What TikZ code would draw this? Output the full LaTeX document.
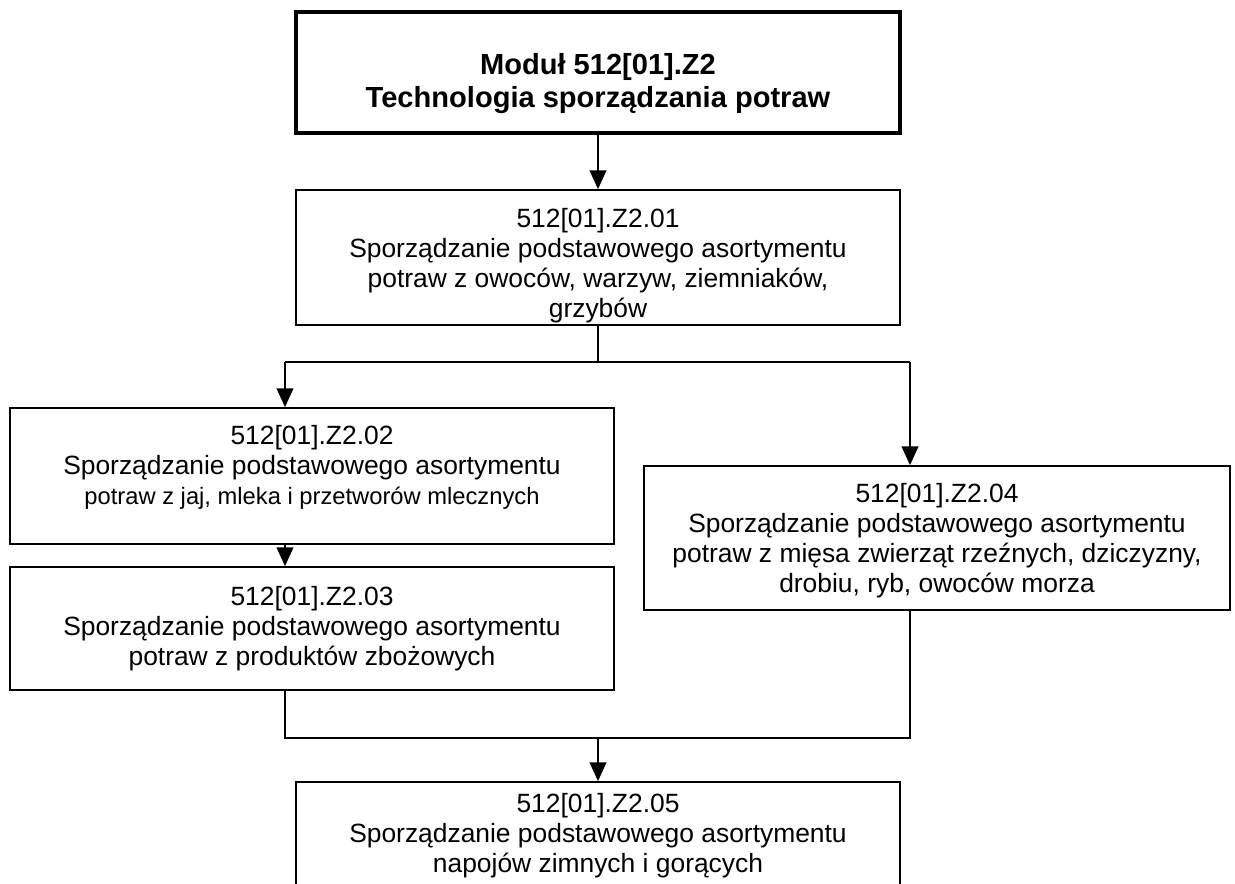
\documentclass[tikz,border=0pt]{standalone}
\usepackage{fontspec}
\setmainfont{Liberation Sans}
\usepackage{tikz}
\usetikzlibrary{arrows.meta}
\usetikzlibrary{positioning}

\tikzset{
    box/.style={draw, rectangle, line width=1.3pt, inner sep=0pt},
    txt/.style={align=center, inner sep=0pt, font=\fontsize{19.8pt}{22.5pt}\selectfont},
    arr/.style={line width=1.1pt, -{Triangle[length=14pt, width=12.5pt]}},
    con/.style={line width=1.1pt},
}

\begin{document}
\begin{tikzpicture}[x=0.75pt, y=-0.75pt]
    \path [use as bounding box, clip] (0, 0) rectangle (1235, 884);
    \fill [white] (0, 0) rectangle (1235, 884);

    \node [box, line width=2.4pt, minimum width=453pt, minimum height=90.75pt] (mod) at (598, 72.5) {};
    \node [box, minimum width=453pt, minimum height=101.25pt] (b1) at (598, 257.5) {};
    \node [box, minimum width=453pt, minimum height=102pt] (b2) at (312, 476) {};
    \node [box, minimum width=453pt, minimum height=92.25pt] (b3) at (312, 628.5) {};
    \node [box, minimum width=439.5pt, minimum height=108pt] (b4) at (937, 538) {};
    \node [box, minimum width=453pt, minimum height=97.5pt] (b5) at (598, 847) {};

    \node [txt, font=\bfseries\fontsize{21.8pt}{24.7pt}\selectfont] (modt) at (598, 84)
        {Moduł 512[01].Z2\\Technologia sporządzania potraw};
    \node [txt] (b1t) at (598, 266)
        {512[01].Z2.01\\Sporządzanie podstawowego asortymentu\\potraw z owoców, warzyw, ziemniaków,\\grzybów};
    \node [txt] (b2t) at (312, 467)
        {512[01].Z2.02\\Sporządzanie podstawowego asortymentu\\{\fontsize{17.8pt}{21pt}\selectfont potraw z jaj, mleka i przetworów mlecznych}};
    \node [txt] (b3t) at (312, 629)
        {512[01].Z2.03\\Sporządzanie podstawowego asortymentu\\potraw z produktów zbożowych};
    \node [txt] (b4t) at (937, 541)
        {512[01].Z2.04\\Sporządzanie podstawowego asortymentu\\potraw z mięsa zwierząt rzeźnych, dziczyzny,\\drobiu, ryb, owoców morza};
    \node [txt] (b5t) at (598, 836)
        {512[01].Z2.05\\Sporządzanie podstawowego asortymentu\\napojów zimnych i gorących};

    \coordinate (fl) at (285, 362);
    \coordinate (fr) at (910, 362);
    \coordinate (jl) at (285, 738);
    \coordinate (jr) at (910, 738);

    \draw [arr] (mod) -- (b1);
    \draw [con] (b1) -- (b1.south |- fl);
    \draw [con] (fl) -- (fr);
    \draw [arr] (fl) -- (fl |- b2.north);
    \draw [arr] (fr) -- (fr |- b4.north);
    \draw [arr] (fl |- b2.south) -- (fl |- b3.north);
    \draw [con] (fl |- b3.south) -- (jl) -- (jr) -- (fr |- b4.south);
    \draw [arr] (b5.north |- jl) -- (b5.north);
\end{tikzpicture}
\end{document}
